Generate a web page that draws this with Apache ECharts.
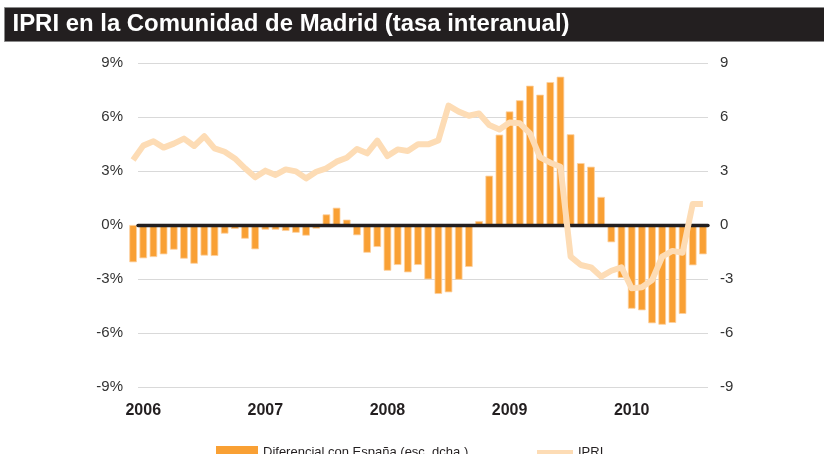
<!DOCTYPE html>
<html>
<head>
<meta charset="utf-8">
<script src="https://cdn.jsdelivr.net/npm/echarts@6/dist/echarts.min.js"></script>
<style>
  html, body { margin: 0; padding: 0; background: #fff; }
  #chart { width: 824px; height: 454px; }
</style>
</head>
<body>
<div id="chart"></div>
<script>
// meses: dic 2005 - ago 2010
var months = [
  '2005-12',
  '2006-01', '2006-02', '2006-03', '2006-04', '2006-05', '2006-06', '2006-07', '2006-08', '2006-09', '2006-10', '2006-11', '2006-12',
  '2007-01', '2007-02', '2007-03', '2007-04', '2007-05', '2007-06', '2007-07', '2007-08', '2007-09', '2007-10', '2007-11', '2007-12',
  '2008-01', '2008-02', '2008-03', '2008-04', '2008-05', '2008-06', '2008-07', '2008-08', '2008-09', '2008-10', '2008-11', '2008-12',
  '2009-01', '2009-02', '2009-03', '2009-04', '2009-05', '2009-06', '2009-07', '2009-08', '2009-09', '2009-10', '2009-11', '2009-12',
  '2010-01', '2010-02', '2010-03', '2010-04', '2010-05', '2010-06', '2010-07', '2010-08'
]
// Diferencial con España (esc. dcha.)
var diferencial = [
  -2.07,
  -1.85, -1.78, -1.63, -1.37, -1.87, -2.15, -1.70, -1.72, -0.48, -0.22, -0.76, -1.35,
  -0.26, -0.26, -0.33, -0.43, -0.59, -0.20, 0.59, 0.96, 0.30, -0.57, -1.54, -1.22,
  -2.54, -2.22, -2.63, -2.22, -3.02, -3.83, -3.74, -3.04, -2.33, 0.22, 2.74, 5.02,
  6.31, 6.93, 7.74, 7.24, 7.94, 8.24, 5.04, 3.44, 3.24, 1.56, -0.96, -2.94,
  -4.65, -4.74, -5.46, -5.54, -5.44, -4.94, -2.24, -1.63
]
// IPRI (%)
var ipri = [
  3.61,
  4.41, 4.65, 4.30, 4.52, 4.80, 4.39, 4.93, 4.26, 4.07, 3.70, 3.15, 2.65,
  3.02, 2.78, 3.09, 2.98, 2.59, 2.96, 3.15, 3.52, 3.74, 4.22, 3.98, 4.69,
  3.83, 4.20, 4.11, 4.48, 4.48, 4.70, 6.63, 6.30, 6.07, 6.20, 5.56, 5.31,
  5.69, 5.65, 5.09, 3.76, 3.46, 3.24, -1.76, -2.22, -2.35, -2.87, -2.54, -2.35,
  -3.52, -3.46, -3.06, -1.76, -1.44, -1.54, 1.17, 1.17
]

var title = 'IPRI en la Comunidad de Madrid (tasa interanual)'
var titleFont = 'bold 23px "Liberation Sans", Arial, sans-serif'
// el titulo original es condensado: se estrecha para ocupar el mismo ancho
var ctx = document.createElement('canvas').getContext('2d')
ctx.font = titleFont
var titleScale = 557 / ctx.measureText(title).width

var myChart = echarts.init(document.getElementById('chart'))
var option = {
  animation: false,
  textStyle: { fontFamily: '"Liberation Sans", Arial, sans-serif' },
  graphic: [
    {
      type: 'rect',
      shape: { x: 4.5, y: 7.5, width: 830, height: 34 },
      style: { fill: '#231f20', stroke: '#8a8a8a', lineWidth: 1 },
    },
    {
      type: 'text',
      x: 12.5,
      y: 25,
      scaleX: titleScale,
      style: { text: title, font: titleFont, fill: '#ffffff', verticalAlign: 'middle' },
    },
  ],
  grid: [
    // datos
    { left: 128, right: 116, top: 63, bottom: 67 },
    // ejes y rejilla
    { left: 138, right: 116, top: 63, bottom: 67 },
  ],
  legend: [
    {
      data: ['Diferencial con España (esc. dcha.)'],
      icon: 'rect',
      left: 216,
      top: 446,
      itemWidth: 42,
      itemHeight: 13,
      padding: 0,
      itemStyle: { borderWidth: 0 },
      textStyle: { color: '#231f20', fontSize: 13 },
    },
    {
      data: ['IPRI'],
      icon: 'rect',
      left: 537,
      top: 446,
      itemWidth: 36,
      itemHeight: 5,
      padding: 0,
      itemStyle: { borderWidth: 0 },
      textStyle: { color: '#231f20', fontSize: 13 },
    },
  ],
  xAxis: [
    {
      type: 'category',
      gridIndex: 0,
      data: months,
      boundaryGap: true,
      axisLine: { show: false },
      axisTick: { show: false },
      axisLabel: {
        interval: function (i, v) { return v.slice(5) === '01' },
        formatter: function (v) { return v.slice(0, 4) },
        color: '#231f20',
        fontSize: 16,
        fontWeight: 'bold',
        margin: 16,
      },
    },
    {
      type: 'value',
      gridIndex: 1,
      min: 0,
      max: 1,
      z: 3,
      axisLine: { show: true, onZero: true, lineStyle: { color: '#231f20', width: 3.4 } },
      axisTick: { show: false },
      axisLabel: { show: false },
      splitLine: { show: false },
    },
  ],
  yAxis: [
    // escala oculta para las series
    { type: 'value', gridIndex: 0, min: -9, max: 9, interval: 3, show: false },
    {
      type: 'value',
      gridIndex: 1,
      position: 'left',
      min: -9,
      max: 9,
      interval: 3,
      axisLine: { show: false },
      axisTick: { show: false },
      axisLabel: { formatter: '{value}%', color: '#333', fontSize: 15, margin: 15 },
      splitLine: { lineStyle: { color: '#d9d9d9', width: 1 } },
    },
    {
      type: 'value',
      gridIndex: 1,
      position: 'right',
      min: -9,
      max: 9,
      interval: 3,
      axisLine: { show: false },
      axisTick: { show: false },
      axisLabel: { color: '#333', fontSize: 15, margin: 12 },
      splitLine: { show: false },
    },
  ],
  series: [
    {
      name: 'Diferencial con España (esc. dcha.)',
      type: 'bar',
      xAxisIndex: 0,
      yAxisIndex: 0,
      data: diferencial,
      barWidth: 7.6,
      itemStyle: { color: '#f9a034', borderColor: '#fcd1a0', borderWidth: 0.8 },
      z: 2,
    },
    {
      name: 'IPRI',
      type: 'line',
      xAxisIndex: 0,
      yAxisIndex: 0,
      data: ipri,
      symbol: 'none',
      lineStyle: { color: '#fddcb5', width: 6, join: 'round' },
      itemStyle: { color: '#fddcb5' },
      z: 5,
    },
  ],
}
myChart.setOption(option)
</script>
</body>
</html>
